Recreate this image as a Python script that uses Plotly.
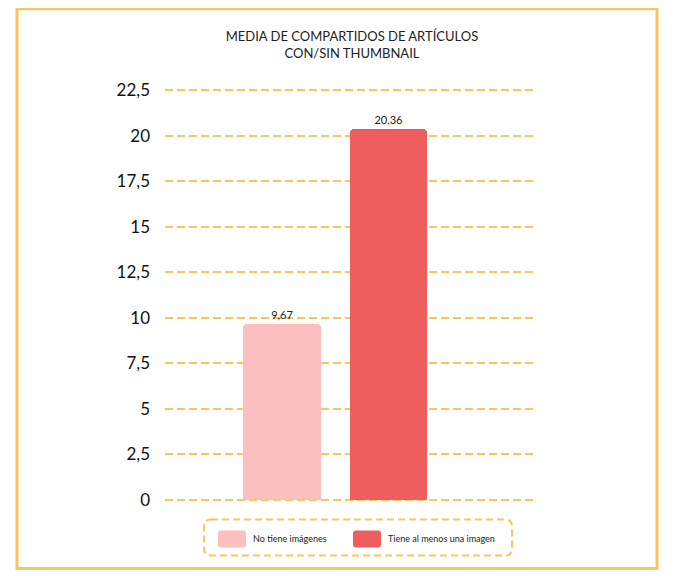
import plotly.graph_objects as go

categories = ["No tiene imágenes", "Tiene al menos una imagen"]
values = [9.67, 20.36]
colors = ["#FBBFBF", "#EF5E5E"]
tick_vals = [0, 2.5, 5, 7.5, 10, 12.5, 15, 17.5, 20, 22.5]

ORANGE = "#F9C55C"
FONT = "Lato"

# plot area (page pixels): x 165..535, y 84.53..505.47
PX0, PW = 165.0, 370.0
PY0, PH = 505.47, 420.94
OFF = 8  # page body margin


def px(x):
    return (x - PX0) / PW


def py(y):
    return (PY0 - y) / PH


def rrect(x0, y0, x1, y1, r):
    a0, a1 = px(x0), px(x1)
    b0, b1 = py(y1), py(y0)  # bottom, top
    rx, ry = r / PW, r / PH
    return (f"M {a0+rx},{b1} L {a1-rx},{b1} Q {a1},{b1} {a1},{b1-ry} "
            f"L {a1},{b0+ry} Q {a1},{b0} {a1-rx},{b0} L {a0+rx},{b0} "
            f"Q {a0},{b0} {a0},{b0+ry} L {a0},{b1-ry} Q {a0},{b1} {a0+rx},{b1} Z")


fig = go.Figure()
for i, (cat, val, col) in enumerate(zip(categories, values, colors)):
    fig.add_trace(go.Bar(
        x=[i], y=[val], name=cat,
        marker=dict(color=col, cornerradius=4, line=dict(width=0)),
        width=0.73,
        text=[val], texttemplate="%{y:.2f}", textposition="outside",
        textfont=dict(size=11, color="#222222", family=FONT),
        cliponaxis=False, showlegend=False,
    ))

# outer frame
fig.add_shape(type="rect", xref="paper", yref="paper",
              x0=px(17), x1=px(657), y0=py(569), y1=py(8),
              line=dict(color=ORANGE, width=3), layer="below")

# dashed rounded legend box
fig.add_shape(type="path", xref="paper", yref="paper",
              path=rrect(204, 520, 512, 556, 7),
              line=dict(color=ORANGE, width=2, dash="7px,4px"))

# legend swatches and labels
sw_x = [(218, 246), (353, 381)]
txt_x = [251, 386]
for (a, b), col, cat, tx in zip(sw_x, colors, categories, txt_x):
    fig.add_shape(type="path", xref="paper", yref="paper",
                  path=rrect(a, 531, b, 548, 3),
                  fillcolor=col, line=dict(width=0))
    fig.add_annotation(xref="paper", yref="paper", x=px(tx), y=py(539.5),
                       text=cat, showarrow=False, xanchor="left", yanchor="middle",
                       font=dict(size=9, family=FONT, color="#222222"))

fig.update_layout(
    width=675, height=580,
    margin=dict(l=PX0 - OFF, r=675 - (PX0 + PW - OFF),
                t=PY0 - PH - OFF, b=580 - (PY0 - OFF), pad=0),
    paper_bgcolor="white", plot_bgcolor="white",
    separators=",.",
    font=dict(family=FONT, color="#222222"),
    title=dict(text="MEDIA DE COMPARTIDOS DE ARTÍCULOS<br>CON/SIN THUMBNAIL",
               x=344 / 675, xanchor="center", xref="container",
               y=1 - 33 / 580, yanchor="middle", yref="container",
               font=dict(size=13, family=FONT, color="#222222")),
    showlegend=False,
    bargap=0,
)
fig.update_xaxes(range=[-1.1, 2.376], showticklabels=False, showgrid=False,
                 zeroline=False, showline=False, fixedrange=True)
fig.update_yaxes(range=[-0.3, 22.8], tickvals=tick_vals,
                 showgrid=True, griddash="8px,4px", gridcolor=ORANGE, gridwidth=2,
                 zeroline=False, showline=False,
                 ticklabelstandoff=14,
                 tickfont=dict(size=17, family=FONT, color="#111111"))

fig.write_html("out.html")
